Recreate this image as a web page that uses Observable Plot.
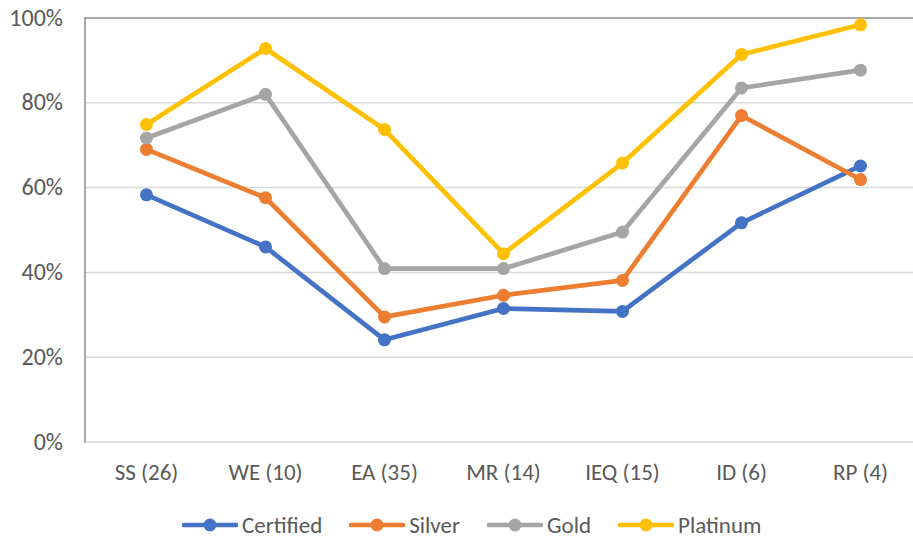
<!DOCTYPE html>
<html>
<head>
<meta charset="utf-8">
<script src="https://cdn.jsdelivr.net/npm/d3@7"></script>
<script src="https://cdn.jsdelivr.net/npm/@observablehq/plot@0.6"></script>
<style>
  body { margin: 0; background: #fff; }
  #chart { width: 913px; }
  .legend { display: flex; align-items: center; height: 46px; margin-top: 10px; padding-left: 182px;
            font-family: Calibri, Carlito, Lato, sans-serif; font-size: 23px; color: #595959; }
  .legend .item { display: flex; align-items: center; margin-right: 27px; }
  .legend svg { margin-right: 4px; }
</style>
</head>
<body>
<div id="chart"></div>
<script>
// Categories (with number of credits in parentheses)
const categories = ["SS (26)", "WE (10)", "EA (35)", "MR (14)", "IEQ (15)", "ID (6)", "RP (4)"];

// Share of points achieved, by certification level
const certified = [0.583, 0.460, 0.241, 0.315, 0.308, 0.517, 0.651];
const silver    = [0.690, 0.576, 0.295, 0.346, 0.381, 0.770, 0.619];
const gold      = [0.717, 0.820, 0.409, 0.409, 0.495, 0.835, 0.877];
const platinum  = [0.749, 0.928, 0.737, 0.444, 0.658, 0.914, 0.984];

const seriesNames = ["Certified", "Silver", "Gold", "Platinum"];
const seriesColors = ["#4472C4", "#ED7D31", "#A5A5A5", "#FFC000"];
const seriesValues = [certified, silver, gold, platinum];

const yTicks = [0, 0.2, 0.4, 0.6, 0.8, 1.0];

const rows = seriesNames.flatMap((name, s) =>
  categories.map((cat, i) => ({series: name, category: cat, value: seriesValues[s][i]})));

const font = "Calibri, Carlito, Lato, sans-serif";

// Each series: its line, then its markers on top (later series drawn above earlier ones)
const seriesMarks = seriesNames.flatMap((name, s) => {
  const data = rows.filter(d => d.series === name);
  return [
    Plot.line(data, {x: "category", y: "value", stroke: seriesColors[s], strokeWidth: 4.7, strokeLinejoin: "round"}),
    Plot.dot(data, {x: "category", y: "value", fill: seriesColors[s], r: 6.5, stroke: "none"})
  ];
});

const chart = Plot.plot({
  width: 913,
  height: 492,
  marginLeft: 84.5,
  marginRight: 0,
  marginTop: 17.5,
  marginBottom: 50.5,
  style: {fontFamily: font, background: "#fff"},
  x: {type: "point", domain: categories, range: [84.5, 921.5], padding: 0.5},
  y: {domain: [0, 1]},
  marks: [
    Plot.ruleY(yTicks.filter(v => v < 1), {stroke: "#d9d9d9", strokeWidth: 1.5}),
    Plot.ruleY([1], {stroke: "#8c8c8c", strokeWidth: 1.5}),
    Plot.frame({anchor: "left", stroke: "#8c8c8c", strokeWidth: 1.5}),
    Plot.axisY({ticks: yTicks, tickFormat: d3.format(".0%"), tickSize: 0, tickPadding: 22,
                fontSize: 24, fill: "#595959", label: null}),
    Plot.axisX({tickSize: 0, tickPadding: 22, fontSize: 23, fill: "#595959", label: null}),
    ...seriesMarks
  ]
});
document.getElementById("chart").appendChild(chart);

// Legend: line-and-marker swatches below the chart
const legend = d3.select("#chart").append("div").attr("class", "legend");
seriesNames.forEach((name, i) => {
  const item = legend.append("div").attr("class", "item");
  const sw = item.append("svg").attr("width", 56).attr("height", 16);
  sw.append("line").attr("x1", 2).attr("x2", 54).attr("y1", 8).attr("y2", 8)
    .attr("stroke", seriesColors[i]).attr("stroke-width", 4.7).attr("stroke-linecap", "round");
  sw.append("circle").attr("cx", 28).attr("cy", 8).attr("r", 6.5).attr("fill", seriesColors[i]);
  item.append("span").text(name);
});
</script>
</body>
</html>
